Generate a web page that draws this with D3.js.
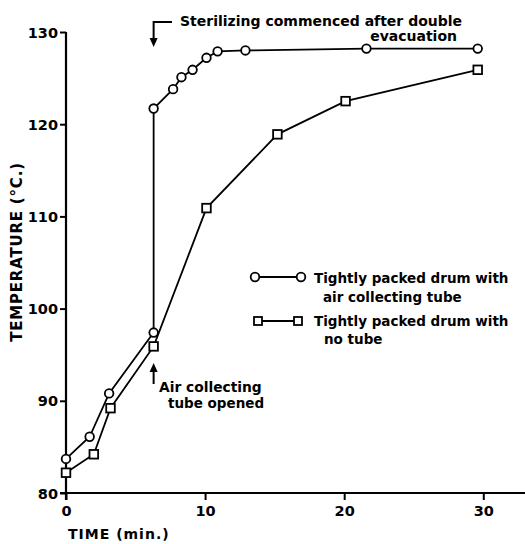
<!DOCTYPE html>
<html>
<head>
<meta charset="utf-8">
<script src="https://cdn.jsdelivr.net/npm/d3@7/dist/d3.min.js"></script>
<style>
  html, body { margin: 0; padding: 0; background: #fff; }
  svg { display: block; }
  text { font-family: "DejaVu Sans", sans-serif; font-weight: bold; fill: #000; }
</style>
</head>
<body>
<script>
// Data
const circleTime = [0, 1.7, 3.1, 6.3, 6.3, 7.7, 8.3, 9.1, 10.1, 10.9, 12.9, 21.6, 29.6];
const circleTemp = [83.7, 86.1, 90.8, 97.4, 121.7, 123.8, 125.1, 125.9, 127.2, 127.9, 128.0, 128.2, 128.2];
const squareTime = [0, 2.0, 3.2, 6.3, 10.1, 15.2, 20.1, 29.6];
const squareTemp = [82.2, 84.2, 89.2, 95.9, 110.9, 118.9, 122.5, 125.9];
const xTicks = [0, 10, 20, 30];
const yTicks = [80, 90, 100, 110, 120, 130];
const legendLabels = [["Tightly packed drum with", "air collecting tube"], ["Tightly packed drum with", "no tube"]];
const noteTop = ["Sterilizing commenced after double", "evacuation"];
const noteBottom = ["Air collecting", "tube opened"];

const W = 525, H = 544;
const svg = d3.select("body").append("svg").attr("width", W).attr("height", H);

const x = d3.scaleLinear().domain([0, 33]).range([66, 525]);
const y = d3.scaleLinear().domain([80, 130]).range([493, 32]);

// Axes
const yAxis = d3.axisLeft(y).tickValues(yTicks).tickSize(6).tickPadding(2).tickFormat(d3.format("d"));
const gy = svg.append("g").attr("transform", `translate(${x(0)},0)`).call(yAxis);
gy.select(".domain").attr("stroke", "#000").attr("stroke-width", 2.2).attr("d", `M0,${y(130)}V${y(80) + 7}`);
gy.selectAll(".tick line").attr("stroke", "#000").attr("stroke-width", 2);
gy.selectAll(".tick text").style("font-size", "14.5px").attr("dy", "0.35em");

const xAxis = d3.axisBottom(x).tickValues(xTicks).tickSize(7).tickPadding(6).tickFormat(d3.format("d"));
const gx = svg.append("g").attr("transform", `translate(0,${y(80)})`).call(xAxis);
gx.select(".domain").attr("stroke", "#000").attr("stroke-width", 2.2).attr("d", `M${x(0) - 6},0H${W}`);
gx.selectAll(".tick line").attr("stroke", "#000").attr("stroke-width", 2);
gx.selectAll(".tick text").style("font-size", "14.5px");

// Axis titles
svg.append("text").attr("transform", `translate(22,252) rotate(-90)`)
  .attr("text-anchor", "middle").style("font-size", "15px").style("letter-spacing", "0.8px")
  .text("TEMPERATURE (°C.)");
svg.append("text").attr("x", 68).attr("y", 539).style("font-size", "14px").style("letter-spacing", "1px")
  .text("TIME (min.)");

// Lines
const line = d3.line().x(d => x(d[0])).y(d => y(d[1]));
const cData = circleTime.map((t, i) => [t, circleTemp[i]]);
const sData = squareTime.map((t, i) => [t, squareTemp[i]]);

svg.append("path").datum(sData).attr("d", line).attr("fill", "none").attr("stroke", "#000").attr("stroke-width", 1.8);
svg.append("path").datum(cData).attr("d", line).attr("fill", "none").attr("stroke", "#000").attr("stroke-width", 1.8);

// Markers
svg.selectAll("circle.pt").data(cData).enter().append("circle").attr("class", "pt")
  .attr("cx", d => x(d[0])).attr("cy", d => y(d[1])).attr("r", 4.3)
  .attr("fill", "#fff").attr("stroke", "#000").attr("stroke-width", 1.8);
svg.selectAll("rect.pt").data(sData).enter().append("rect").attr("class", "pt")
  .attr("x", d => x(d[0]) - 4.3).attr("y", d => y(d[1]) - 4.3).attr("width", 8.6).attr("height", 8.6)
  .attr("fill", "#fff").attr("stroke", "#000").attr("stroke-width", 1.8);

// Legend
const lg = svg.append("g");
const fsL = "13.5px";
lg.append("line").attr("x1", 255).attr("x2", 301).attr("y1", 277).attr("y2", 277).attr("stroke", "#000").attr("stroke-width", 1.8);
[255, 301].forEach(cx => lg.append("circle").attr("cx", cx).attr("cy", 277).attr("r", 4.3).attr("fill", "#fff").attr("stroke", "#000").attr("stroke-width", 1.8));
lg.append("text").attr("x", 314).attr("y", 283).style("font-size", fsL).text(legendLabels[0][0]);
lg.append("text").attr("x", 323).attr("y", 302).style("font-size", fsL).text(legendLabels[0][1]);
lg.append("line").attr("x1", 258).attr("x2", 298).attr("y1", 321).attr("y2", 321).attr("stroke", "#000").attr("stroke-width", 1.8);
[258, 298].forEach(cx => lg.append("rect").attr("x", cx - 4).attr("y", 317).attr("width", 8).attr("height", 8).attr("fill", "#fff").attr("stroke", "#000").attr("stroke-width", 1.8));
lg.append("text").attr("x", 314).attr("y", 326).style("font-size", fsL).text(legendLabels[1][0]);
lg.append("text").attr("x", 324).attr("y", 344).style("font-size", fsL).text(legendLabels[1][1]);

// Annotations
const ax = x(6.3);
svg.append("path").attr("d", `M172,22H${ax}V40`).attr("fill", "none").attr("stroke", "#000").attr("stroke-width", 2);
svg.append("path").attr("d", `M${ax - 4},38L${ax},47L${ax + 4},38Z`).attr("fill", "#000");
svg.append("text").attr("x", 180).attr("y", 26).style("font-size", "14px").text(noteTop[0]);
svg.append("text").attr("x", 457).attr("y", 41).attr("text-anchor", "end").style("font-size", "14px").text(noteTop[1]);

svg.append("path").attr("d", `M${ax},384V370`).attr("fill", "none").attr("stroke", "#000").attr("stroke-width", 2);
svg.append("path").attr("d", `M${ax - 4},372L${ax},363L${ax + 4},372Z`).attr("fill", "#000");
svg.append("text").attr("x", 159).attr("y", 392).style("font-size", "13.8px").text(noteBottom[0]);
svg.append("text").attr("x", 168).attr("y", 408).style("font-size", "13.5px").text(noteBottom[1]);
</script>
</body>
</html>
